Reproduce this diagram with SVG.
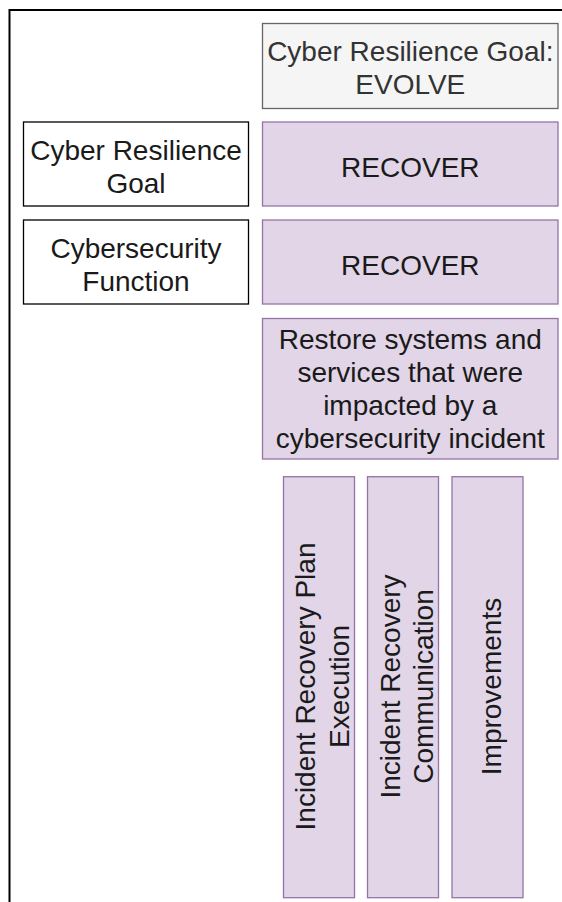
<svg xmlns="http://www.w3.org/2000/svg" width="562" height="902" viewBox="0 0 562 902">
<style>
text{font-family:"Liberation Sans",Arial,Helvetica,sans-serif;font-size:28px;text-anchor:middle;fill:#1a1a1a}
.plain{fill:#ffffff;stroke:#000000;stroke-width:1.3}
.gray{fill:#f5f5f5;stroke:#666666;stroke-width:1.3}
.purple{fill:#e1d5e7;stroke:#9673a6;stroke-width:1.3}
.frame{fill:none;stroke:#000000;stroke-width:2}
</style>
<rect width="562" height="902" fill="#ffffff"/>
<g id="frame"><path class="frame" d="M9.5,903 V10 H563"/></g>
<g id="goal-evolve">
<rect class="gray" x="262.5" y="23.5" width="295.5" height="85"/>
<text x="410.3" y="61" style="fill:#333333">Cyber Resilience Goal:</text>
<text x="410.3" y="94" style="fill:#333333">EVOLVE</text>
</g>
<g id="label-goal">
<rect class="plain" x="23.5" y="122" width="225" height="84"/>
<text x="136" y="159.7">Cyber Resilience</text>
<text x="136" y="192.9">Goal</text>
</g>
<g id="recover-goal">
<rect class="purple" x="262.5" y="122" width="295.5" height="84"/>
<text x="410.3" y="177">RECOVER</text>
</g>
<g id="label-function">
<rect class="plain" x="23.5" y="220" width="225" height="84"/>
<text x="136" y="257.7">Cybersecurity</text>
<text x="136" y="290.9">Function</text>
</g>
<g id="recover-function">
<rect class="purple" x="262.5" y="220" width="295.5" height="84"/>
<text x="410.3" y="275">RECOVER</text>
</g>
<g id="description">
<rect class="purple" x="262.5" y="318.5" width="295.5" height="140.5"/>
<text x="410.3" y="348.5">Restore systems and</text>
<text x="410.3" y="381.7">services that were</text>
<text x="410.3" y="414.9">impacted by a</text>
<text x="410.3" y="448.1">cybersecurity incident</text>
</g>
<g id="cat-plan">
<rect class="purple" x="283.5" y="476.7" width="71" height="421"/>
<g transform="translate(319,686.5) rotate(-90)">
<text x="0" y="-3.7">Incident Recovery Plan</text>
<text x="0" y="29.6">Execution</text>
</g>
</g>
<g id="cat-communication">
<rect class="purple" x="367.5" y="476.7" width="71" height="421"/>
<g transform="translate(403,686.5) rotate(-90)">
<text x="0" y="-3.3">Incident Recovery</text>
<text x="0" y="30">Communication</text>
</g>
</g>
<g id="cat-improvements">
<rect class="purple" x="452" y="476.7" width="71" height="421"/>
<g transform="translate(487.5,686.5) rotate(-90)">
<text x="0" y="13.3">Improvements</text>
</g>
</g>
<g id="connectors"></g>
</svg>
